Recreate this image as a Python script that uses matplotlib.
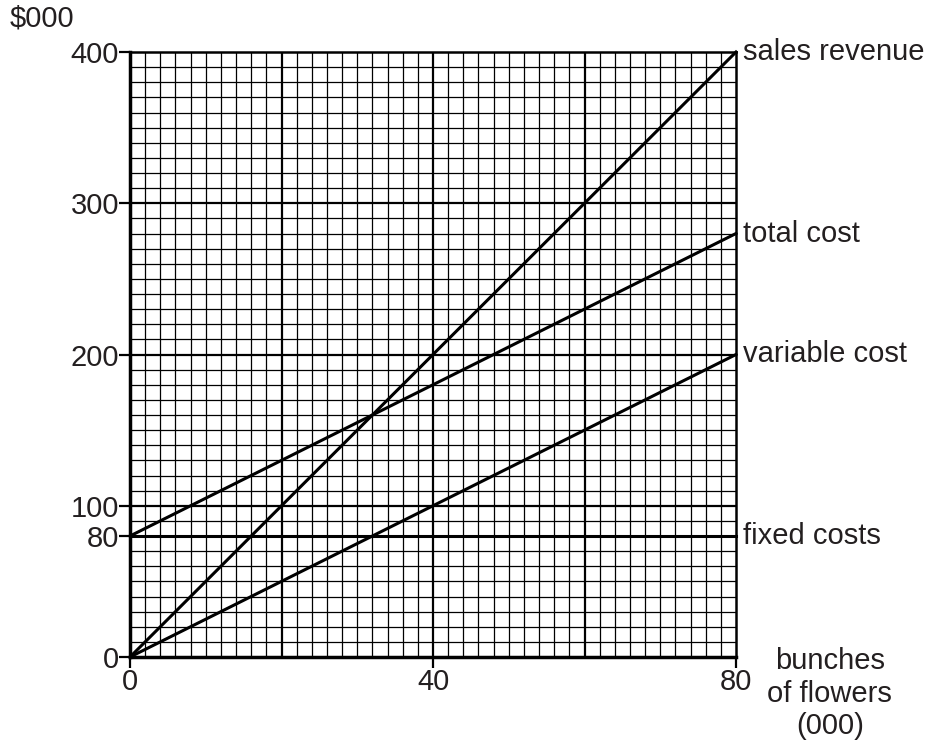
import numpy as np
import matplotlib.pyplot as plt

plt.rcParams['font.family'] = ['Liberation Sans', 'DejaVu Sans']

# break-even chart data ($000 against bunches of flowers, 000)
bunches = [0, 80]
sales_revenue = [0, 400]
total_cost = [80, 280]
variable_cost = [0, 200]
fixed_costs = [80, 80]

line_names = ['sales revenue', 'total cost', 'variable cost', 'fixed costs']
y_ticks = [0, 80, 100, 200, 300, 400]
x_ticks = [0, 40, 80]

txt = '#231f20'
fs = 21

fig = plt.figure(figsize=(9.27, 7.46), dpi=100)
ax = fig.add_axes([130 / 927, 1 - 657 / 746, (736 - 130) / 927, (657 - 52) / 746])

ax.set_xlim(0, 80)
ax.set_ylim(0, 400)

# graph paper grid
for gx in np.arange(2, 80, 2):
    lw = 1.6 if gx % 20 == 0 else 0.9
    ax.axvline(gx, color='black', lw=lw, zorder=1)
for gy in np.arange(10, 400, 10):
    lw = 1.6 if gy % 100 == 0 else 0.9
    ax.axhline(gy, color='black', lw=lw, zorder=1)

series = [sales_revenue, total_cost, variable_cost, fixed_costs]
for name, vals in zip(line_names, series):
    ax.plot(bunches, vals, color='black', lw=2.2, zorder=3, clip_on=False)
    ax.text(bunches[-1] + 0.9, vals[-1], name, fontsize=fs, va='center', ha='left', color=txt)

for side in ['left', 'bottom']:
    ax.spines[side].set_linewidth(2.5)
for side in ['top', 'right']:
    ax.spines[side].set_linewidth(1.8)

ax.set_yticks(y_ticks)
ax.set_yticklabels([str(v) for v in y_ticks])
ax.set_xticks(x_ticks)
ax.set_xticklabels([str(v) for v in x_ticks])
ax.tick_params(axis='both', direction='out', length=8, width=1.6, labelsize=fs,
               labelcolor=txt, pad=0)

ax.text(-0.145, 1.055, '$000', transform=ax.transAxes, fontsize=fs, ha='center',
        va='center', color=txt)
ax.text(1.155, 0.016, 'bunches\nof flowers\n(000)', transform=ax.transAxes, fontsize=fs,
        ha='center', va='top', linespacing=1.2, color=txt)

fig.savefig('out.png', dpi=100)
